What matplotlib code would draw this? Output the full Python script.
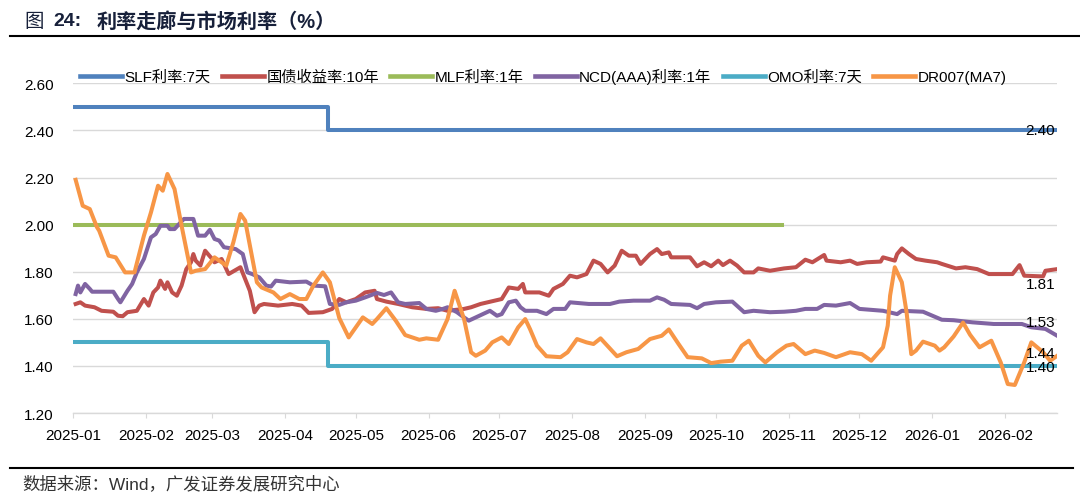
import pandas as pd
import numpy as np
import matplotlib
matplotlib.use('Agg')
import matplotlib.pyplot as plt
import matplotlib.dates as mdates
from matplotlib.lines import Line2D

plt.rcParams['font.family'] = ['Liberation Sans', 'Noto Sans CJK SC', 'DejaVu Sans']
plt.rcParams['axes.unicode_minus'] = False

# ---------------- data ----------------
slf_dates = ['2025-01-01', '2025-04-19', '2026-02-23']
slf_vals = [2.50, 2.40, 2.40]

omo_dates = ['2025-01-01', '2025-04-19', '2026-02-23']
omo_vals = [1.50, 1.40, 1.40]

mlf_dates = ['2025-01-01', '2025-10-29']
mlf_vals = [2.00, 2.00]

# 国债收益率:10年
gz_dates = ['2025-01-02', '2025-01-04', '2025-01-06', '2025-01-10', '2025-01-13', '2025-01-18',
            '2025-01-20', '2025-01-22', '2025-01-24', '2025-01-28', '2025-01-31', '2025-02-02',
            '2025-02-04', '2025-02-06', '2025-02-07', '2025-02-09', '2025-02-10', '2025-02-12',
            '2025-02-14', '2025-02-16', '2025-02-18', '2025-02-20', '2025-02-21', '2025-02-22',
            '2025-02-24', '2025-02-26', '2025-03-01', '2025-03-02', '2025-03-05', '2025-03-08',
            '2025-03-13', '2025-03-15', '2025-03-17', '2025-03-19', '2025-03-21', '2025-03-23',
            '2025-03-29', '2025-04-04', '2025-04-08', '2025-04-11', '2025-04-17', '2025-04-21',
            '2025-04-24', '2025-04-27', '2025-05-01', '2025-05-05', '2025-05-09', '2025-05-10',
            '2025-05-14', '2025-05-19', '2025-05-25', '2025-05-31', '2025-06-05', '2025-06-09',
            '2025-06-16', '2025-06-19', '2025-06-23', '2025-06-26', '2025-07-02', '2025-07-05',
            '2025-07-09', '2025-07-11', '2025-07-12', '2025-07-18', '2025-07-22', '2025-07-24',
            '2025-07-28', '2025-07-31', '2025-08-03', '2025-08-07', '2025-08-10', '2025-08-13',
            '2025-08-16', '2025-08-19', '2025-08-22', '2025-08-25', '2025-08-28', '2025-08-30',
            '2025-09-03', '2025-09-06', '2025-09-08', '2025-09-11', '2025-09-12', '2025-09-20',
            '2025-09-23', '2025-09-26', '2025-09-29', '2025-10-02', '2025-10-04', '2025-10-07',
            '2025-10-10', '2025-10-13', '2025-10-17', '2025-10-19', '2025-10-24', '2025-10-30',
            '2025-11-04', '2025-11-08', '2025-11-11', '2025-11-16', '2025-11-17', '2025-11-23',
            '2025-11-27', '2025-11-30', '2025-12-04', '2025-12-10', '2025-12-11', '2025-12-16',
            '2025-12-17', '2025-12-19', '2025-12-22', '2025-12-25', '2025-12-29', '2026-01-03',
            '2026-01-05', '2026-01-11', '2026-01-15', '2026-01-20', '2026-01-25', '2026-02-04',
            '2026-02-07', '2026-02-09', '2026-02-17', '2026-02-18', '2026-02-23']
gz_vals = [1.663, 1.670, 1.656, 1.649, 1.634, 1.630,
           1.613, 1.611, 1.628, 1.634, 1.684, 1.656,
           1.712, 1.733, 1.762, 1.727, 1.755, 1.712,
           1.698, 1.741, 1.811, 1.840, 1.875, 1.847,
           1.826, 1.889, 1.854, 1.840, 1.854, 1.790,
           1.819, 1.769, 1.719, 1.628, 1.656, 1.663,
           1.656, 1.663, 1.656, 1.625, 1.628, 1.642,
           1.684, 1.670, 1.684, 1.712, 1.719, 1.684,
           1.673, 1.663, 1.649, 1.642, 1.645, 1.634,
           1.642, 1.649, 1.663, 1.670, 1.684, 1.733,
           1.727, 1.748, 1.712, 1.712, 1.698, 1.727,
           1.748, 1.783, 1.776, 1.790, 1.847, 1.833,
           1.797, 1.826, 1.889, 1.868, 1.868, 1.833,
           1.875, 1.896, 1.875, 1.882, 1.861, 1.861,
           1.823, 1.840, 1.823, 1.847, 1.828, 1.847,
           1.826, 1.797, 1.797, 1.814, 1.804, 1.814,
           1.819, 1.851, 1.840, 1.871, 1.847, 1.840,
           1.847, 1.833, 1.840, 1.843, 1.861, 1.847,
           1.875, 1.899, 1.875, 1.854, 1.847, 1.840,
           1.833, 1.814, 1.819, 1.811, 1.790, 1.790,
           1.828, 1.783, 1.780, 1.804, 1.811]

# NCD(AAA)利率:1年
ncd_dates = ['2025-01-02', '2025-01-03', '2025-01-04', '2025-01-06', '2025-01-08', '2025-01-09',
             '2025-01-18', '2025-01-20', '2025-01-21', '2025-01-24', '2025-01-26', '2025-01-28',
             '2025-01-31', '2025-02-03', '2025-02-05', '2025-02-07', '2025-02-10', '2025-02-11',
             '2025-02-13', '2025-02-15', '2025-02-17', '2025-02-21', '2025-02-23', '2025-02-26',
             '2025-02-28', '2025-03-02', '2025-03-04', '2025-03-06', '2025-03-11', '2025-03-14',
             '2025-03-16', '2025-03-18', '2025-03-21', '2025-03-24', '2025-03-26', '2025-03-28',
             '2025-04-03', '2025-04-10', '2025-04-13', '2025-04-18', '2025-04-20', '2025-04-24',
             '2025-04-27', '2025-05-01', '2025-05-05', '2025-05-10', '2025-05-13', '2025-05-16',
             '2025-05-19', '2025-05-22', '2025-05-28', '2025-05-31', '2025-06-04', '2025-06-07',
             '2025-06-09', '2025-06-13', '2025-06-15', '2025-06-18', '2025-06-21', '2025-06-24',
             '2025-06-27', '2025-06-30', '2025-07-02', '2025-07-05', '2025-07-08', '2025-07-10',
             '2025-07-12', '2025-07-17', '2025-07-21', '2025-07-24', '2025-07-29', '2025-07-31',
             '2025-08-08', '2025-08-17', '2025-08-21', '2025-08-27', '2025-09-03', '2025-09-06',
             '2025-09-09', '2025-09-12', '2025-09-20', '2025-09-23', '2025-09-26', '2025-10-01',
             '2025-10-08', '2025-10-13', '2025-10-17', '2025-10-24', '2025-10-30', '2025-11-04',
             '2025-11-08', '2025-11-13', '2025-11-16', '2025-11-21', '2025-11-27', '2025-12-01',
             '2025-12-11', '2025-12-17', '2025-12-19', '2025-12-28', '2026-01-01', '2026-01-05',
             '2026-01-10', '2026-01-18', '2026-01-27', '2026-02-08', '2026-02-12', '2026-02-18',
             '2026-02-23']
ncd_vals = [1.705, 1.741, 1.712, 1.748, 1.727, 1.715,
            1.715, 1.684, 1.670, 1.719, 1.748, 1.797,
            1.854, 1.946, 1.960, 1.995, 1.995, 1.981,
            1.981, 2.003, 2.024, 2.024, 1.953, 1.953,
            1.978, 1.939, 1.932, 1.904, 1.896, 1.875,
            1.797, 1.790, 1.776, 1.741, 1.737, 1.762,
            1.755, 1.758, 1.741, 1.738, 1.663, 1.659,
            1.670, 1.677, 1.691, 1.710, 1.701, 1.712,
            1.670, 1.663, 1.667, 1.642, 1.634, 1.642,
            1.649, 1.628, 1.613, 1.592, 1.606, 1.620,
            1.634, 1.613, 1.620, 1.670, 1.677, 1.649,
            1.634, 1.634, 1.620, 1.642, 1.642, 1.670,
            1.663, 1.663, 1.673, 1.677, 1.677, 1.691,
            1.681, 1.663, 1.659, 1.645, 1.663, 1.670,
            1.673, 1.628, 1.634, 1.628, 1.630, 1.634,
            1.642, 1.642, 1.659, 1.656, 1.667, 1.642,
            1.634, 1.620, 1.634, 1.630, 1.613, 1.596,
            1.594, 1.585, 1.578, 1.578, 1.564, 1.557,
            1.528]

# DR007(MA7)
dr_dates = ['2025-01-02', '2025-01-05', '2025-01-08', '2025-01-11', '2025-01-12', '2025-01-16',
            '2025-01-19', '2025-01-23', '2025-01-27', '2025-01-31', '2025-02-03', '2025-02-06',
            '2025-02-08', '2025-02-10', '2025-02-13', '2025-02-16', '2025-02-20', '2025-02-22',
            '2025-02-26', '2025-03-02', '2025-03-07', '2025-03-10', '2025-03-13', '2025-03-15',
            '2025-03-20', '2025-03-22', '2025-03-27', '2025-03-30', '2025-04-03', '2025-04-07',
            '2025-04-10', '2025-04-13', '2025-04-17', '2025-04-20', '2025-04-24', '2025-04-28',
            '2025-05-04', '2025-05-08', '2025-05-10', '2025-05-14', '2025-05-18', '2025-05-22',
            '2025-05-28', '2025-05-31', '2025-06-05', '2025-06-09', '2025-06-12', '2025-06-16',
            '2025-06-19', '2025-06-21', '2025-06-25', '2025-06-28', '2025-07-02', '2025-07-05',
            '2025-07-09', '2025-07-12', '2025-07-14', '2025-07-17', '2025-07-21', '2025-07-27',
            '2025-07-30', '2025-08-03', '2025-08-07', '2025-08-10', '2025-08-13', '2025-08-20',
            '2025-08-24', '2025-08-29', '2025-09-03', '2025-09-08', '2025-09-11', '2025-09-15',
            '2025-09-19', '2025-09-25', '2025-09-29', '2025-10-03', '2025-10-08', '2025-10-12',
            '2025-10-15', '2025-10-19', '2025-10-22', '2025-10-27', '2025-10-31', '2025-11-03',
            '2025-11-08', '2025-11-12', '2025-11-16', '2025-11-21', '2025-11-27', '2025-12-02',
            '2025-12-06', '2025-12-11', '2025-12-13', '2025-12-14', '2025-12-16', '2025-12-19',
            '2025-12-21', '2025-12-23', '2025-12-25', '2025-12-28', '2026-01-02', '2026-01-04',
            '2026-01-06', '2026-01-10', '2026-01-14', '2026-01-17', '2026-01-21', '2026-01-26',
            '2026-01-30', '2026-02-02', '2026-02-05', '2026-02-09', '2026-02-12', '2026-02-17',
            '2026-02-20', '2026-02-23']
dr_vals = [2.190, 2.080, 2.066, 1.990, 1.974, 1.868,
           1.861, 1.797, 1.797, 1.953, 2.052, 2.165,
           2.144, 2.215, 2.151, 1.995, 1.797, 1.804,
           1.811, 1.861, 1.826, 1.925, 2.045, 2.017,
           1.755, 1.733, 1.712, 1.684, 1.705, 1.684,
           1.684, 1.741, 1.797, 1.755, 1.603, 1.521,
           1.606, 1.578, 1.599, 1.645, 1.592, 1.531,
           1.511, 1.517, 1.511, 1.599, 1.719, 1.599,
           1.458, 1.443, 1.465, 1.500, 1.521, 1.493,
           1.564, 1.599, 1.557, 1.486, 1.441, 1.437,
           1.458, 1.514, 1.500, 1.493, 1.517, 1.441,
           1.458, 1.472, 1.514, 1.528, 1.555, 1.495,
           1.437, 1.432, 1.412, 1.418, 1.422, 1.486,
           1.507, 1.443, 1.415, 1.458, 1.486, 1.493,
           1.450, 1.465, 1.455, 1.437, 1.458, 1.450,
           1.422, 1.479, 1.571, 1.698, 1.819, 1.755,
           1.628, 1.450, 1.465, 1.503, 1.486, 1.465,
           1.479, 1.525, 1.584, 1.532, 1.479, 1.507,
           1.415, 1.323, 1.319, 1.415, 1.500, 1.458,
           1.422, 1.443]

# 末端数据标签
end_labels = ['2.40', '1.81', '1.53', '1.44', '1.40']

x_start = '2025-01-01'
x_end = '2026-02-23'

# ---------------- colours ----------------
C_SLF = '#4F81BD'
C_GZ = '#C0504D'
C_MLF = '#9BBB59'
C_NCD = '#8064A2'
C_OMO = '#4BACC6'
C_DR = '#F79646'

fig = plt.figure(figsize=(10.8, 5.02), dpi=100)
ax = fig.add_axes([73.3 / 1080, 1 - 414 / 502, (1057.2 - 73.3) / 1080, (414 - 84.3) / 502])

lw = 2.9
ax.plot(pd.to_datetime(slf_dates), slf_vals, color=C_SLF, lw=lw, drawstyle='steps-post', label='SLF利率:7天')
ax.plot(pd.to_datetime(gz_dates), gz_vals, color=C_GZ, lw=lw, label='国债收益率:10年')
ax.plot(pd.to_datetime(mlf_dates), mlf_vals, color=C_MLF, lw=lw, label='MLF利率:1年')
ax.plot(pd.to_datetime(ncd_dates), ncd_vals, color=C_NCD, lw=lw, label='NCD(AAA)利率:1年')
ax.plot(pd.to_datetime(omo_dates), omo_vals, color=C_OMO, lw=lw, drawstyle='steps-post', label='OMO利率:7天')
ax.plot(pd.to_datetime(dr_dates), dr_vals, color=C_DR, lw=lw, label='DR007(MA7)')

# 末端标签
end_x = pd.to_datetime(x_end)
end_y = [slf_vals[-1], gz_vals[-1], ncd_vals[-1], dr_vals[-1], omo_vals[-1]]
end_dy = [0, -15, 14, 3, -1]
for lab, yv, dy in zip(end_labels, end_y, end_dy):
    ax.annotate(lab, xy=(end_x, yv), xytext=(-2, dy), textcoords='offset pixels',
                ha='right', va='center', fontsize=11, color='black')

ax.set_xlim(pd.to_datetime(x_start), end_x)
ax.set_ylim(1.2, 2.6)
ax.set_yticks(np.arange(1.2, 2.61, 0.2))
ax.yaxis.set_major_formatter(matplotlib.ticker.FormatStrFormatter('%.2f'))
ax.xaxis.set_major_locator(mdates.MonthLocator())
ax.xaxis.set_major_formatter(mdates.DateFormatter('%Y-%m'))

ax.grid(axis='y', color='#d9d9d9', lw=1)
ax.set_axisbelow(True)
for s in ['top', 'right', 'left']:
    ax.spines[s].set_visible(False)
ax.spines['bottom'].set_color('#d9d9d9')
ax.spines['bottom'].set_linewidth(1)
ax.tick_params(axis='y', length=0, pad=14, labelsize=11)
ax.tick_params(axis='x', length=3.5, color='#d9d9d9', pad=7, labelsize=11)

leg = fig.legend(loc='center left', bbox_to_anchor=(80 / 1080, 1 - 77 / 502), ncol=6,
                 frameon=False, fontsize=11, handlelength=2.75, handletextpad=0.15,
                 columnspacing=0.75, borderpad=0, borderaxespad=0)
for h in leg.get_lines():
    h.set_linewidth(3.3)

# 标题
tc = '#17203a'
ty = 1 - 22 / 502
fig.text(24 / 1080, ty, '图', fontsize=14, color=tc, va='center')
fig.text(53 / 1080, ty, '24:', fontsize=14, color=tc, va='center', fontweight='bold')
fig.text(97 / 1080, ty, '利率走廊与市场利率（%）', fontsize=14.5, color=tc, va='center',
         fontweight='bold')
fig.add_artist(Line2D([10 / 1080, 1.0], [1 - 37 / 502] * 2, color='black', lw=1.5))

# 来源
fig.add_artist(Line2D([10 / 1080, 1073 / 1080], [1 - 469 / 502] * 2, color='black', lw=1.5))
fig.text(22 / 1080, 1 - 484 / 502, '数据来源：Wind，广发证券发展研究中心', fontsize=12.5,
         color='#333333', va='center')

fig.savefig('out.png', dpi=100)
